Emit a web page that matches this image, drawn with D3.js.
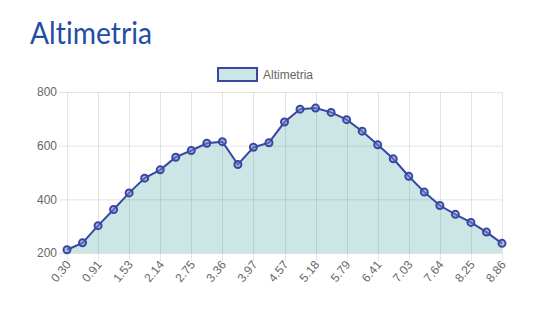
<!DOCTYPE html>
<html>
<head>
<meta charset="utf-8">
<script src="https://cdn.jsdelivr.net/npm/d3@7"></script>
<style>
  body { margin: 0; background: #fff; }
  .title { font-family: 'Lato', sans-serif; font-weight: 400; font-size: 31px; fill: #1f4fa3; font-variant-ligatures: none; }
  .tick text, .legend text { font-family: 'Liberation Sans', Arial, sans-serif; font-size: 12px; fill: #666; }
</style>
</head>
<body>
<div class="canvas"></div>
<script>
const distances = ['0.30', '0.61', '0.91', '1.22', '1.53', '1.84', '2.14', '2.45', '2.75', '3.06',
  '3.36', '3.67', '3.97', '4.27', '4.57', '4.88', '5.18', '5.49', '5.79', '6.10',
  '6.41', '6.72', '7.03', '7.33', '7.64', '7.94', '8.25', '8.55', '8.86'];
const altitudes = [212, 238, 302, 362, 424, 479, 510, 557, 582, 609,
  615, 530, 594, 611, 688, 736, 740, 724, 697, 654,
  603, 551, 486, 427, 377, 344, 314, 278, 236];
const yTicks = [200, 400, 600, 800];
const seriesName = 'Altimetria';

const dims = { width: 550, height: 325 };
const plot = { left: 67, right: 502, top: 92, bottom: 253 };

const svg = d3.select('.canvas')
  .append('svg')
  .attr('width', dims.width)
  .attr('height', dims.height);

svg.append('text')
  .attr('class', 'title')
  .attr('x', 30)
  .attr('y', 44)
  .attr('textLength', 122)
  .attr('lengthAdjust', 'spacingAndGlyphs')
  .text('Altimetria');

const x = d3.scalePoint()
  .domain(distances)
  .range([plot.left, plot.right]);

const y = d3.scaleLinear()
  .domain([200, 800])
  .range([plot.bottom, plot.top]);

// grid lines
const grid = svg.append('g');
grid.selectAll('line.h')
  .data(yTicks)
  .enter().append('line')
    .attr('x1', plot.left - 8).attr('x2', plot.right)
    .attr('y1', d => y(d) + 0.5).attr('y2', d => y(d) + 0.5)
    .attr('stroke', 'rgba(0,0,0,0.1)');

const shown = distances.filter((d, i) => i % 2 === 0);
grid.selectAll('line.v')
  .data(shown)
  .enter().append('line')
    .attr('x1', d => Math.round(x(d)) + 0.5).attr('x2', d => Math.round(x(d)) + 0.5)
    .attr('y1', plot.top).attr('y2', plot.bottom + 8)
    .attr('stroke', 'rgba(0,0,0,0.1)');

// axes labels
const xAxis = d3.axisBottom(x).tickValues(shown).tickSize(0).tickPadding(0);
svg.append('g')
  .attr('transform', `translate(0, ${plot.bottom})`)
  .call(xAxis)
  .call(g => g.select('.domain').remove())
  .selectAll('text')
    .attr('text-anchor', 'end')
    .attr('dy', 0)
    .attr('transform', 'translate(4, 12) rotate(-50)');

const yAxis = d3.axisLeft(y).tickValues(yTicks).tickSize(0).tickPadding(10);
svg.append('g')
  .attr('transform', `translate(${plot.left}, 0)`)
  .call(yAxis)
  .call(g => g.select('.domain').remove());

svg.selectAll('.tick text').attr('font-family', null).attr('font-size', null);

// area + line
const area = d3.area()
  .x(d => x(d.dist))
  .y0(plot.bottom)
  .y1(d => y(d.alt));

const line = d3.line()
  .x(d => x(d.dist))
  .y(d => y(d.alt));

const data = distances.map((d, i) => ({ dist: d, alt: altitudes[i] }));

svg.append('path')
  .datum(data)
  .attr('d', area)
  .attr('fill', 'rgba(0,128,128,0.2)');

svg.append('path')
  .datum(data)
  .attr('d', line)
  .attr('fill', 'none')
  .attr('stroke', '#3a46a3')
  .attr('stroke-width', 2);

svg.selectAll('circle')
  .data(data)
  .enter().append('circle')
    .attr('cx', d => x(d.dist))
    .attr('cy', d => y(d.alt))
    .attr('r', 3.5)
    .attr('fill', 'rgba(110,140,200,0.5)')
    .attr('stroke', '#3a46a3')
    .attr('stroke-width', 2);

// legend
const legend = svg.append('g').attr('class', 'legend');
legend.append('rect')
  .attr('x', 218).attr('y', 68)
  .attr('width', 39).attr('height', 13)
  .attr('fill', 'rgba(0,128,128,0.2)')
  .attr('stroke', '#3a46a3')
  .attr('stroke-width', 2);
legend.append('text')
  .attr('x', 263).attr('y', 79)
  .text(seriesName);
</script>
</body>
</html>
